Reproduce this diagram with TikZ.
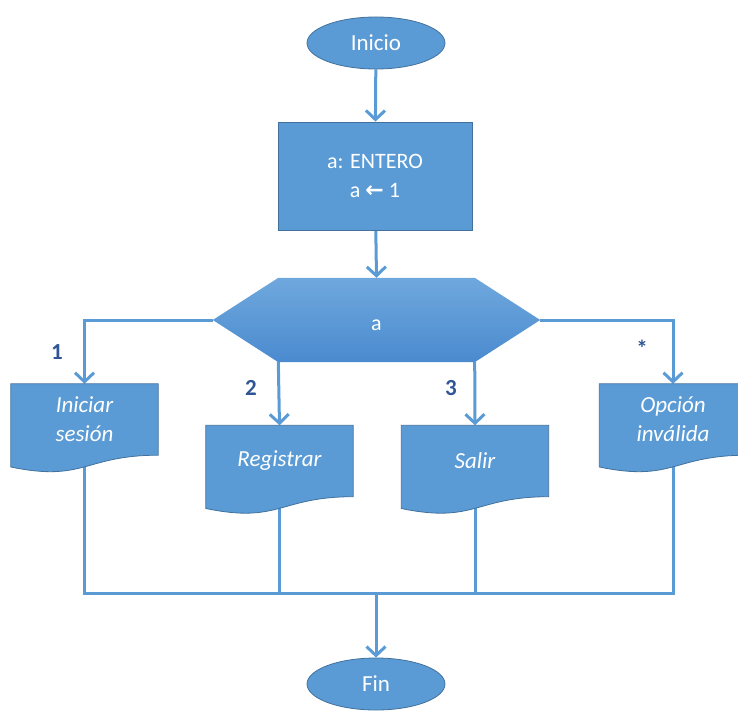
\documentclass[tikz,border=0pt]{standalone}
\usepackage{fontspec}
\setmainfont{Carlito}
\newfontfamily\symfont{DejaVu Sans}
\usetikzlibrary{arrows.meta,calc,backgrounds,shapes.geometric}
\definecolor{obl}{HTML}{5B9BD5}
\definecolor{obd}{HTML}{41719C}
\definecolor{lbl}{HTML}{2F5597}
\definecolor{hextop}{HTML}{6FA8DD}
\definecolor{hexbot}{HTML}{4A8ACF}
\newcommand\docwave[1]{\path[fill=obl, draw=obd, line width=0.8pt] (#1.north west) -- (#1.north east) -- (#1.south east) .. controls (#1.south) and ($(#1.north)!1.38!(#1.south)$) .. ($(#1.north west)!1.165!(#1.south west)$) -- cycle;}
\begin{document}
\begin{tikzpicture}[x=1pt,y=-1pt,
  conn/.style={draw=obl, line width=3pt},
  arr/.style={conn,-{Straight Barb[length=9pt,width=19pt]}},
  term/.style={ellipse, fill=obl, draw=obd, line width=0.8pt, minimum width=138pt, minimum height=52pt, inner sep=0pt, text=white, font=\fontsize{23}{27}\selectfont},
  proc/.style={rectangle, fill=obl, draw=obd, line width=0.8pt, minimum width=194pt, minimum height=108pt, inner sep=0pt, text=white, align=center, font=\fontsize{22}{29}\selectfont},
  docn/.style={rectangle, inner sep=0pt, minimum width=147pt, minimum height=71pt, text=white, align=center, font=\itshape\fontsize{23}{29}\selectfont},
  hexn/.style={rectangle, inner sep=0pt, minimum width=327pt, minimum height=84pt, text height=20pt, text depth=0pt, text=white, font=\fontsize{22}{26}\selectfont},
  num/.style={text=lbl, font=\bfseries\fontsize{23}{27}\selectfont}
]
\useasboundingbox (0,0) rectangle (738,711);
\node[term] (ini) at (376,43) {Inicio};
\node[proc] (decl) at (375,176) {a: ENTERO\\a {\symfont\bfseries ←} 1};
\node[hexn] (hex) at (376.5,320) {a};
\node[docn] (d1) at (84.5,419.5) {Iniciar\\sesión};
\node[docn] (d2) at (279.5,461) {Registrar};
\node[docn] (d3) at (475,461) {Salir};
\node[docn] (d4) at (673,419.5) {Opción\\inválida};
\node[term] (fin) at (376,684) {Fin};
\node[num] (n1) at (57,352) {1};
\node[num] (n2) at (251,388) {2};
\node[num] (n3) at (451,388) {3};
\node[num] (n4) at (642,348) {*};
\coordinate (hbl) at ($(hex.south west)+(65.5,0)$);
\coordinate (hbr) at ($(hex.south east)+(-65.5,0)$);
\coordinate (bus) at (376,593);
\begin{scope}[on background layer]
  \draw[arr] (ini) -- (decl);
  \draw[arr] (decl) -- (hex.north);
  \draw[arr] (hex.west) -| (d1.north);
  \draw[arr] (hex.east) -| (d4.north);
  \draw[arr] (hbl) -- (d2.north);
  \draw[arr] (hbr) -- (d3.north);
  \draw[conn] (d1.south) |- (bus) -| (d4.south);
  \draw[conn] (d2.south) -- (d2.south |- bus);
  \draw[conn] (d3.south) -- (d3.south |- bus);
  \draw[arr] (bus) -- (fin);
  \path[top color=hextop, bottom color=hexbot] (hex.west) -- ($(hex.north west)+(65.5,0)$) -- ($(hex.north east)+(-65.5,0)$) -- (hex.east) -- (hbr) -- (hbl) -- cycle;
  \docwave{d1}
  \docwave{d2}
  \docwave{d3}
  \docwave{d4}
\end{scope}
\end{tikzpicture}
\end{document}
